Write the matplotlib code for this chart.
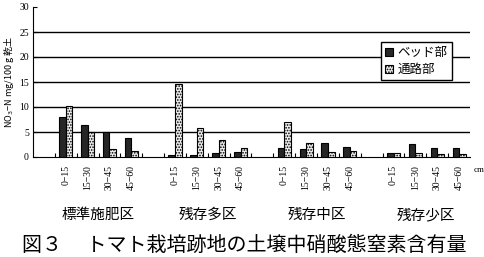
import numpy as np
import matplotlib.pyplot as plt

plt.rcParams['font.family'] = ['Noto Sans CJK JP', 'DejaVu Sans']
plt.rcParams['hatch.color'] = "#a0a0a0"
plt.rcParams['hatch.linewidth'] = 0.8

# data (NO3-N mg/100g dry soil)
groups = ["標準施肥区", "残存多区", "残存中区", "残存少区"]
depths = ["0\u221215", "15\u221230", "30\u221245", "45\u221260"]
bed = [[8.1, 6.5, 5.0, 3.9],
       [0.45, 0.45, 0.85, 1.05],
       [1.85, 1.65, 2.85, 2.05],
       [0.8, 2.6, 1.8, 1.8]]
path = [[10.3, 5.0, 1.6, 1.3],
        [14.7, 5.8, 3.45, 1.85],
        [7.05, 2.85, 1.0, 1.25],
        [0.8, 0.8, 0.6, 0.6]]
series = ["ベッド部", "通路部"]

fig = plt.figure(figsize=(4.85, 2.57), dpi=100)
ax = fig.add_axes([33/485, 1 - 157/257, 437/485, 150/257])

# category layout: one empty slot before each group of four
xs, labels = [], []
for g in range(len(groups)):
    base = g * 5 + 1
    for d in range(4):
        xs.append(base + d + 0.5)
        labels.append(depths[d])
xs = np.array(xs)
bed_v = np.array(bed).ravel()
path_v = np.array(path).ravel()

w = 0.3
ax.bar(xs - w / 2, bed_v, w, color="#262626", edgecolor="black", lw=0.8,
       label=series[0], zorder=3)
ax.bar(xs + w / 2, path_v, w, color="#ececec", edgecolor="black", lw=0.8,
       hatch="......", label=series[1], zorder=3)

for yv in range(5, 30, 5):
    ax.axhline(yv, color="black", lw=1.0, zorder=1)

ax.set_xlim(0, 20)
ax.set_ylim(0, 30)
ax.set_yticks(range(0, 31, 5))
ax.tick_params(axis="y", direction="in", length=3, labelsize=7, pad=3)
for t in ax.get_yticklabels():
    t.set_family("Liberation Serif")
ax.set_xticks(np.arange(1, 20))
ax.set_xticklabels([])
ax.tick_params(axis="x", direction="in", length=3)
for s in ["top", "right"]:
    ax.spines[s].set_visible(False)

for x, lab in zip(xs, labels):
    ax.text(x, -1.6, lab, rotation=90, ha="center", va="top", fontsize=7,
            family="Liberation Serif")
ax.text(20.15, -2.6, "cm", ha="left", va="center", fontsize=6.5,
        family="Liberation Serif", clip_on=False)

for g, name in enumerate(groups):
    ax.text(g * 5 + 3, -11.6, name, ha="center", va="center", fontsize=10.5)

ax.set_ylabel("NO$_3$\u2212N mg/100 g 乾土", fontsize=6.5, labelpad=2)

ax.legend(loc="upper right", bbox_to_anchor=(0.959, 0.767), fontsize=9,
          frameon=True, fancybox=False, edgecolor="black", framealpha=1,
          handlelength=0.6, handleheight=0.6, handletextpad=0.4,
          borderpad=0.35, labelspacing=0.3, borderaxespad=0)

fig.text(22/485, 1 - 245/257, "図３　 トマト栽培跡地の土壌中硝酸態窒素含有量",
         ha="left", va="center", fontsize=14.4)

fig.savefig("out.png", dpi=100)
